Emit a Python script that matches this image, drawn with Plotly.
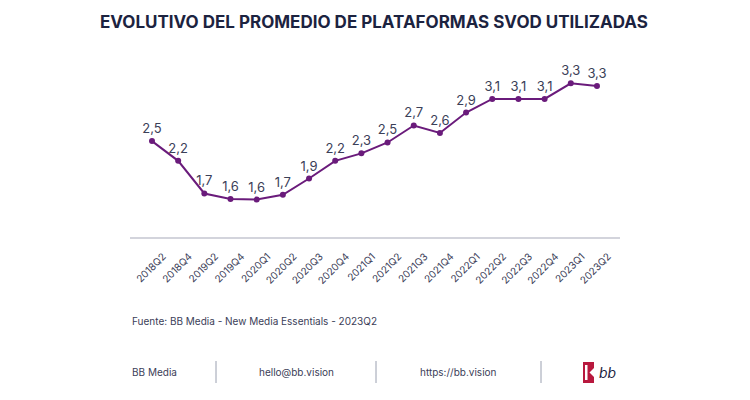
import plotly.graph_objects as go

quarters = ["2018Q2", "2018Q4", "2019Q2", "2019Q4", "2020Q1", "2020Q2", "2020Q3",
            "2020Q4", "2021Q1", "2021Q2", "2021Q3", "2021Q4", "2022Q1", "2022Q2",
            "2022Q3", "2022Q4", "2023Q1", "2023Q2"]
avg_platforms = [2.48, 2.19, 1.71, 1.63, 1.62, 1.69, 1.93, 2.19, 2.30, 2.46,
                 2.71, 2.60, 2.90, 3.10, 3.10, 3.10, 3.33, 3.29]

title_text = "EVOLUTIVO DEL PROMEDIO DE PLATAFORMAS SVOD UTILIZADAS"
source_text = "Fuente: BB Media - New Media Essentials - 2023Q2"
footer_items = ["BB Media", "hello@bb.vision", "https://bb.vision"]

W, H = 750, 400
L, R, T, B = 130, 130, 50, 163
PW, PH = W - L - R, H - T - B

def px(x):
    return (x - L) / PW

def py(y):
    return (H - B - y) / PH

TXT = "#3b4058"
PURPLE = "#6a1b7b"
FONT = "Inter, 'Open Sans', sans-serif"

fig = go.Figure()
fig.add_trace(go.Scatter(
    x=list(range(len(quarters))), y=avg_platforms,
    mode="lines+markers+text",
    line=dict(color=PURPLE, width=2),
    marker=dict(color=PURPLE, size=6),
    texttemplate="%{y:.1f}",
    textposition="top center",
    textfont=dict(size=13, color=TXT, family=FONT),
    hoverinfo="skip",
    cliponaxis=False,
))

annotations = [
    dict(text=f"<b>{title_text}</b>", x=px(374), y=py(22), xref="paper", yref="paper",
         xanchor="center", yanchor="middle", showarrow=False,
         font=dict(size=17, color="#1c2340", family=FONT)),
    dict(text=source_text, x=px(130), y=py(321), xref="paper", yref="paper",
         xanchor="left", yanchor="middle", showarrow=False,
         font=dict(size=10, color=TXT, family=FONT)),
    dict(text=footer_items[0], x=px(130), y=py(372), xref="paper", yref="paper",
         xanchor="left", yanchor="middle", showarrow=False,
         font=dict(size=10, color=TXT, family=FONT)),
    dict(text=footer_items[1], x=px(296), y=py(372), xref="paper", yref="paper",
         xanchor="center", yanchor="middle", showarrow=False,
         font=dict(size=10, color=TXT, family=FONT)),
    dict(text=footer_items[2], x=px(458), y=py(372), xref="paper", yref="paper",
         xanchor="center", yanchor="middle", showarrow=False,
         font=dict(size=10, color=TXT, family=FONT)),
    dict(text="<i>bb</i>", x=px(597), y=py(372), xref="paper", yref="paper",
         xanchor="left", yanchor="middle", showarrow=False,
         font=dict(size=14, color="#1c2340", family=FONT)),
]

shapes = []
for sx in [216, 376, 541]:
    shapes.append(dict(type="line", xref="paper", yref="paper",
                       x0=px(sx), x1=px(sx), y0=py(361), y1=py(383),
                       line=dict(color="#9aa0b0", width=1)))
# logo block
shapes.append(dict(type="rect", xref="paper", yref="paper",
                   x0=px(583), x1=px(594), y0=py(362), y1=py(383),
                   fillcolor="#b8183e", line=dict(width=0)))
shapes.append(dict(type="rect", xref="paper", yref="paper",
                   x0=px(585), x1=px(587.5), y0=py(365), y1=py(380),
                   fillcolor="white", line=dict(width=0)))
shapes.append(dict(type="path", xref="paper", yref="paper",
                   path=f"M {px(594)},{py(368)} L {px(589.5)},{py(372.5)} L {px(594)},{py(377)} Z",
                   fillcolor="white", line=dict(width=0)))

fig.update_layout(
    width=W, height=H,
    margin=dict(l=L, r=R, t=T, b=B, pad=0),
    paper_bgcolor="white", plot_bgcolor="white",
    separators=",.",
    showlegend=False,
    annotations=annotations,
    shapes=shapes,
    font=dict(family=FONT, color=TXT),
)
fig.update_xaxes(
    range=[-0.84, 17.88],
    tickmode="array", tickvals=list(range(len(quarters))), ticktext=quarters,
    tickangle=-45, tickfont=dict(size=10, color=TXT, family=FONT),
    ticklabelshift=11, ticklabelstandoff=8,
    showline=True, linecolor="#d3d4dc", linewidth=1.5,
    showgrid=False, zeroline=False, ticks="",
)
fig.update_yaxes(range=[1.07, 3.82], visible=False, showgrid=False, zeroline=False)

fig.write_html("out.html", config={"displayModeBar": False},
               post_script="document.body.style.margin='0';document.body.style.overflow='hidden';")
